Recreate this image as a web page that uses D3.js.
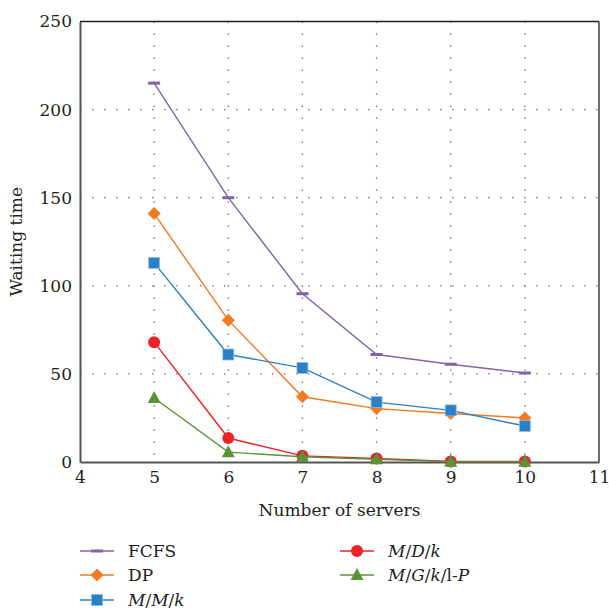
<!DOCTYPE html>
<html>
<head>
<meta charset="utf-8">
<script src="https://cdn.jsdelivr.net/npm/d3@7"></script>
<style>
  body { margin: 0; background: #fff; }
  svg text { font-family: "DejaVu Serif", serif !important; fill: #231f20; }
</style>
</head>
<body>
<div id="chart"></div>
<script>
"use strict";

const servers = [5, 6, 7, 8, 9, 10];
const fcfs = [215, 150, 95.5, 61, 55.5, 50.5];
const dp = [141, 80.5, 37, 30.3, 27.5, 25];
const mmk = [113, 61, 53.4, 34, 29.3, 20.4];
const mdk = [68, 13.6, 3.5, 2, 0.3, 0.3];
const mgk = [36.3, 5.6, 3, 1.6, 0.2, 0.2];
const xTicks = [4, 5, 6, 7, 8, 9, 10, 11];
const yTicks = [0, 50, 100, 150, 200, 250];

const seriesList = [
    { name: "FCFS", values: fcfs, color: "#8064a8", marker: "dash", italic: false },
    { name: "DP", values: dp, color: "#f47920", marker: "diamond", italic: false },
    { name: "M/M/k", values: mmk, color: "#2a80c3", marker: "square", italic: true },
    { name: "M/D/k", values: mdk, color: "#ec2227", marker: "circle", italic: true },
    { name: "M/G/k/l-P", values: mgk, color: "#5b9337", marker: "triangle", italic: true }
];

const width = 609, height = 616;
const margin = { left: 80, right: 10, top: 21.5, bottom: 154 };
const plotW = width - margin.left - margin.right;
const plotH = height - margin.top - margin.bottom;
const serif = '"DejaVu Serif", serif';
const fs = 17;

const svg = d3.select("#chart").append("svg")
    .attr("width", width)
    .attr("height", height)
    .attr("font-family", serif);

const x = d3.scaleLinear().domain([4, 11]).range([margin.left, margin.left + plotW]);
const y = d3.scaleLinear().domain([0, 250]).range([margin.top + plotH, margin.top]);

// grid
const grid = svg.append("g").attr("class", "grid");
grid.selectAll("line.v")
    .data(servers)
    .enter().append("line")
    .attr("class", "v")
    .attr("x1", d => x(d)).attr("x2", d => x(d))
    .attr("y1", y(250)).attr("y2", y(0))
    .attr("stroke", "#555")
    .attr("stroke-width", 1.3)
    .attr("stroke-dasharray", "1.3,10.7");
grid.selectAll("line.h")
    .data(yTicks.filter(d => d > 0 && d < 250))
    .enter().append("line")
    .attr("class", "h")
    .attr("x1", x(4)).attr("x2", x(11))
    .attr("y1", d => y(d)).attr("y2", d => y(d))
    .attr("stroke", "#777")
    .attr("stroke-width", 1.3)
    .attr("stroke-dasharray", "1.6,10.4");

// frame
svg.append("line")
    .attr("x1", x(4)).attr("x2", x(11)).attr("y1", y(250)).attr("y2", y(250))
    .attr("stroke", "#222").attr("stroke-width", 1.3);
svg.append("line")
    .attr("x1", x(11)).attr("x2", x(11)).attr("y1", y(250)).attr("y2", y(0))
    .attr("stroke", "#222").attr("stroke-width", 1.3);

// axes
const xAxis = svg.append("g")
    .attr("transform", `translate(0,${y(0)})`)
    .call(d3.axisBottom(x).tickValues(xTicks).tickFormat(d3.format("d")).tickSize(0).tickPadding(9));
xAxis.attr("font-family", serif);
xAxis.select(".domain").attr("stroke", "#555").attr("stroke-width", 2);
xAxis.selectAll("text").attr("font-size", fs).attr("fill", "#231f20");

const yAxis = svg.append("g")
    .attr("transform", `translate(${x(4)},0)`)
    .call(d3.axisLeft(y).tickValues(yTicks).tickFormat(d3.format("d")).tickSize(0).tickPadding(8));
yAxis.attr("font-family", serif);
yAxis.select(".domain").attr("stroke", "#555").attr("stroke-width", 2);
yAxis.selectAll("text").attr("font-size", fs).attr("fill", "#231f20");

// axis titles
svg.append("text")
    .attr("x", x(7.5))
    .attr("y", 516)
    .attr("text-anchor", "middle")
    .attr("font-size", fs)
    .text("Number of servers");
svg.append("text")
    .attr("transform", `translate(22,${y(125)}) rotate(-90)`)
    .attr("text-anchor", "middle")
    .attr("font-size", fs)
    .text("Waiting time");

// markers
const drawMarker = function (g, type, color) {
    if (type === "dash") {
        g.append("rect").attr("x", -6).attr("y", -1.5).attr("width", 12).attr("height", 3).attr("fill", color);
    } else if (type === "diamond") {
        g.append("path").attr("d", "M0,-6.5L6.5,0L0,6.5L-6.5,0Z").attr("fill", color);
    } else if (type === "square") {
        g.append("rect").attr("x", -5.5).attr("y", -5.5).attr("width", 11).attr("height", 11)
            .attr("fill", color).attr("stroke", "#8ec0e8").attr("stroke-width", 0.8);
    } else if (type === "circle") {
        g.append("circle").attr("r", 6).attr("fill", color);
    } else if (type === "triangle") {
        g.append("path").attr("d", "M0,-7L6.5,5L-6.5,5Z").attr("fill", color);
    }
};

const line = d3.line().x(d => x(d[0])).y(d => y(d[1]));

seriesList.forEach(s => {
    const pts = servers.map((v, i) => [v, s.values[i]]);
    svg.append("path")
        .datum(pts)
        .attr("d", line)
        .attr("fill", "none")
        .attr("stroke", s.color)
        .attr("stroke-width", 1.4);
    svg.append("g").selectAll("g")
        .data(pts)
        .enter().append("g")
        .attr("transform", d => `translate(${x(d[0])},${y(d[1])})`)
        .each(function () { drawMarker(d3.select(this), s.marker, s.color); });
});

// legend
const legendPos = [
    [80, 551], [80, 575], [80, 600], [340, 551], [340, 575]
];
seriesList.forEach((s, i) => {
    const lg = svg.append("g").attr("transform", `translate(${legendPos[i][0]},${legendPos[i][1]})`);
    lg.append("line").attr("x1", 0).attr("x2", 34).attr("y1", 0).attr("y2", 0)
        .attr("stroke", s.color).attr("stroke-width", 1.4);
    drawMarker(lg.append("g").attr("transform", "translate(17,0)"), s.marker, s.color);
    const t = lg.append("text").attr("x", 48).attr("y", 6).attr("font-size", fs);
    if (s.italic) {
        // letters italic, separators and the "l" upright, as in the reference
        s.name.split(/([\/\-]|l)/).filter(p => p !== "").forEach(p => {
            const upright = p === "/" || p === "-" || p === "l";
            t.append("tspan").attr("font-style", upright ? "normal" : "italic").text(p);
        });
    } else {
        t.text(s.name);
    }
});
</script>
</body>
</html>
